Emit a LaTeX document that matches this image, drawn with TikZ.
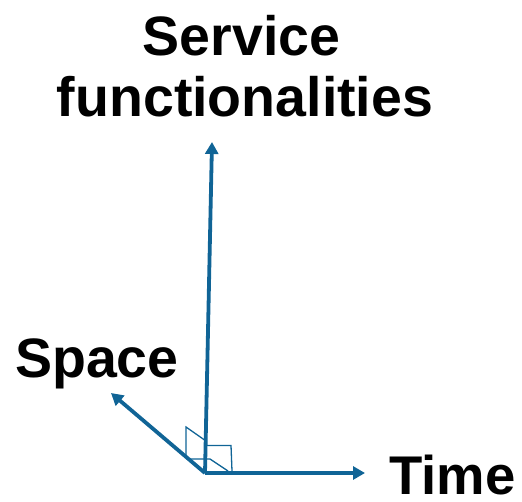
\documentclass[tikz,border=0pt]{standalone}
\usepackage{fontspec}
\setmainfont{Liberation Sans}
\usetikzlibrary{arrows.meta}
\definecolor{axisblue}{RGB}{16,100,150}
\tikzset{
  axisarrow/.style={draw=axisblue, line width=3.8pt, -{Triangle[length=12pt,width=13pt]}},
  anglemark/.style={draw=axisblue, line width=1.3pt},
  lbl/.style={font=\fontsize{55.5pt}{60pt}\selectfont\bfseries, inner sep=0pt, text=black}
}
\begin{document}
\begin{tikzpicture}[x=1pt,y=-1pt]
\useasboundingbox (0,0) rectangle (522,501);
\coordinate (O) at (205,473);
\coordinate (V) at (212,142);
\coordinate (T) at (365,473);
\coordinate (S) at (111,393);
% right-angle marks
\draw[anglemark] (186,458) -- (186,427) -- (206,441);
\draw[anglemark] (206,445.5) -- (231,445.5) -- (232,471);
\draw[anglemark] (188,459) -- (210,459) -- (228,471);
% axes
\draw[axisarrow] (O) -- (V);
\draw[axisarrow] (O) -- (T);
\draw[axisarrow] (O) -- (S);
% labels
\node[lbl, anchor=base] (serv) at (241.5,55) {Service};
\node[lbl, anchor=base] (func) at (245,116) {functionalities};
\node[lbl, anchor=base west] (space) at (15,377) {Space};
\node[lbl, anchor=base west, font=\fontsize{54.5pt}{60pt}\selectfont\bfseries] (time) at (389,494) {Time};
\end{tikzpicture}
\end{document}
